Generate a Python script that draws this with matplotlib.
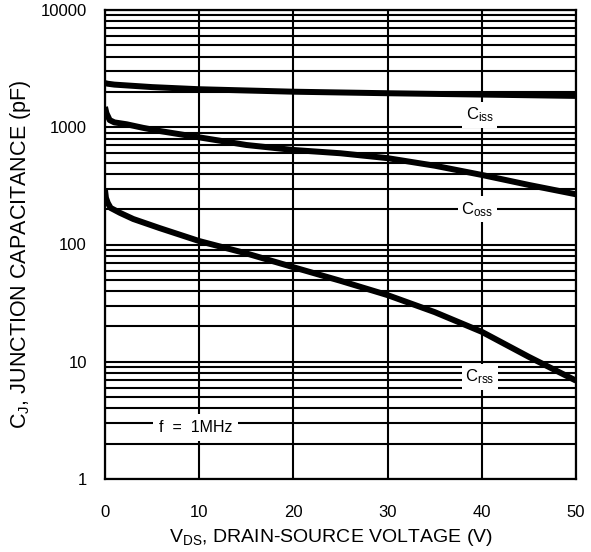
import numpy as np
import matplotlib
matplotlib.use("Agg")
import matplotlib.pyplot as plt
from matplotlib.ticker import LogLocator, NullFormatter, FixedLocator

plt.rcParams['font.family'] = ['Liberation Sans', 'DejaVu Sans']
plt.rcParams['mathtext.fontset'] = 'custom'
plt.rcParams['mathtext.rm'] = 'Liberation Sans'
plt.rcParams['mathtext.it'] = 'Liberation Sans'

# (V, pF)
ciss_v = [0, 0.3, 1, 5, 10, 20, 30, 40, 50]
ciss_c = [2380, 2350, 2310, 2200, 2110, 2010, 1950, 1900, 1850]

coss_v = [0, 0.15, 0.5, 1, 2.3, 4, 5.8, 10, 15, 20, 25, 30, 35, 40, 45, 50]
coss_c = [1490, 1320, 1150, 1100, 1060, 990, 929, 820, 706, 640, 600, 545, 470, 392, 322, 268]

crss_v = [0, 0.1, 0.3, 0.6, 1.6, 3, 5.8, 10, 15, 20, 25, 30, 35, 40, 45, 50]
crss_c = [292, 250, 226, 205, 186, 165, 138, 107, 84, 64, 49, 37, 26.5, 18, 11, 6.9]

x_ticks = [0, 10, 20, 30, 40, 50]
y_ticks = [1, 10, 100, 1000, 10000]

fig = plt.figure(figsize=(5.91, 5.52), dpi=100)
ax = fig.add_axes([105 / 591, 1 - 479 / 552, 471 / 591, 469 / 552])
ax.set_yscale('log')
ax.set_xlim(0, 50)
ax.set_ylim(1, 10000)

ax.set_axisbelow(True)
ax.xaxis.set_major_locator(FixedLocator(x_ticks))
ax.yaxis.set_major_locator(FixedLocator(y_ticks))
ax.yaxis.set_minor_locator(LogLocator(base=10, subs=np.arange(2, 10)))
ax.yaxis.set_minor_formatter(NullFormatter())
ax.set_yticklabels([str(v) for v in y_ticks])
ax.grid(True, which='both', axis='y', color='black', lw=1.5)
ax.grid(True, which='major', axis='x', color='black', lw=1.5)
ax.tick_params(which='both', length=0, labelsize=12)
ax.tick_params(axis='x', pad=19)
ax.tick_params(axis='y', pad=13)
for s in ax.spines.values():
    s.set_linewidth(1.6)

for v, c in [(ciss_v, ciss_c), (coss_v, coss_c), (crss_v, crss_c)]:
    ax.plot(v, c, color='black', lw=4.3, solid_capstyle='butt', zorder=4)

box = dict(facecolor='white', edgecolor='none', pad=2.5)
ax.text(39.8, 1270, r'C$_\mathrm{iss}$', ha='center', va='center', fontsize=12, bbox=box)
ax.text(39.5, 200, r'C$_\mathrm{oss}$', ha='center', va='center', fontsize=12, bbox=box)
ax.text(39.8, 7.4, r'C$_\mathrm{rss}$', ha='center', va='center', fontsize=12, bbox=box)
ax.text(9.6, 2.75, 'f  =  1MHz', ha='center', va='center', fontsize=11.5,
        bbox=dict(facecolor='white', edgecolor='none', pad=4))

ax.set_xlabel(r'V$_\mathrm{DS}$, DRAIN-SOURCE VOLTAGE (V)', fontsize=14)
ax.xaxis.set_label_coords(0.48, -0.103)
ax.set_ylabel(r'C$_\mathrm{J}$, JUNCTION CAPACITANCE (pF)', fontsize=15.5)
ax.yaxis.set_label_coords(-0.152, 0.478)

fig.savefig('out.png', dpi=100)
